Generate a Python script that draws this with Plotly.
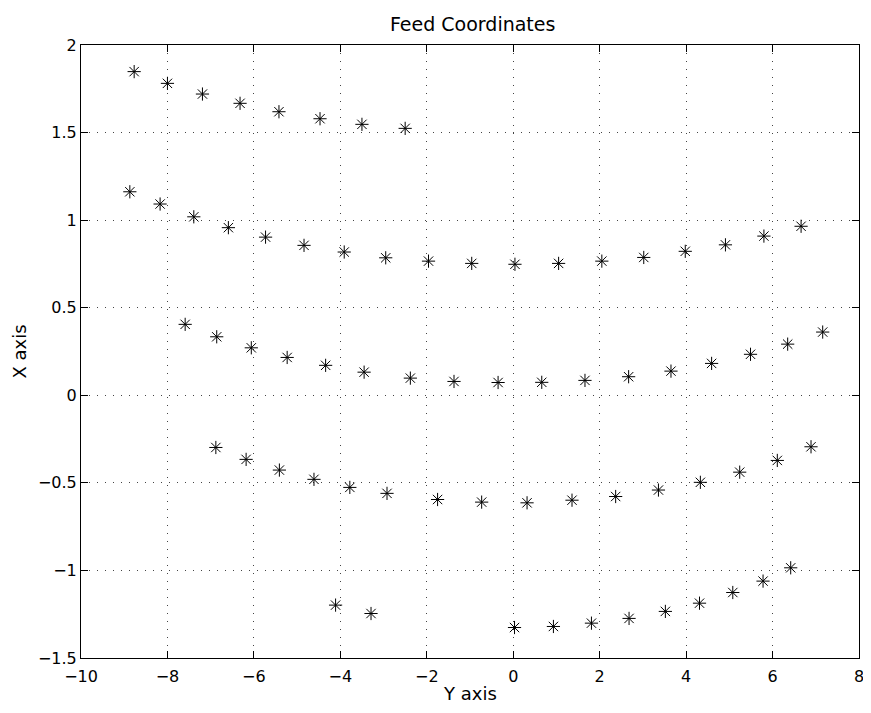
import plotly.graph_objects as go

# Row 1 (top arc)
y1 = [-8.77, -8.00, -7.19, -6.32, -5.42, -4.47, -3.50, -2.50]
x1 = [1.848, 1.781, 1.720, 1.667, 1.619, 1.579, 1.547, 1.524]

# Row 2
y2 = [-8.87, -8.17, -7.39, -6.59, -5.73, -4.84, -3.91, -2.95, -1.96, -0.96,
      0.04, 1.05, 2.05, 3.02, 3.98, 4.91, 5.80, 6.66]
x2 = [1.162, 1.092, 1.019, 0.957, 0.903, 0.856, 0.818, 0.785, 0.766, 0.753,
      0.748, 0.753, 0.766, 0.787, 0.822, 0.859, 0.909, 0.965]

# Row 3
y3 = [-7.59, -6.86, -6.06, -5.23, -4.34, -3.45, -2.38, -1.37,
      -0.35, 0.66, 1.66, 2.67, 3.65, 4.59, 5.49, 6.35, 7.16]
x3 = [0.405, 0.334, 0.271, 0.216, 0.171, 0.132, 0.098, 0.079,
      0.073, 0.074, 0.085, 0.106, 0.138, 0.182, 0.234, 0.292, 0.361]

# Row 4
y4 = [-6.88, -6.18, -5.41, -4.61, -3.78, -2.92, -1.75, -0.73,
      0.32, 1.36, 2.37, 3.36, 4.33, 5.24, 6.11, 6.89]
x4 = [-0.298, -0.366, -0.427, -0.480, -0.526, -0.560, -0.595, -0.610,
      -0.614, -0.599, -0.578, -0.541, -0.497, -0.439, -0.372, -0.294]

# Row 5 (bottom)
y5 = [-4.11, -3.29, 0.03, 0.93, 1.81, 2.68, 3.52, 4.31, 5.08, 5.78, 6.42]
x5 = [-1.198, -1.246, -1.326, -1.320, -1.301, -1.274, -1.234, -1.187, -1.126, -1.061, -0.985]

ys = y1 + y2 + y3 + y4 + y5
xs = x1 + x2 + x3 + x4 + x5

x_ticks = [-10, -8, -6, -4, -2, 0, 2, 4, 6, 8]
y_ticks = [-1.5, -1, -0.5, 0, 0.5, 1, 1.5, 2]

fig = go.Figure()
fig.add_trace(go.Scatter(
    x=ys, y=xs, mode="markers",
    marker=dict(symbol="asterisk-open", size=11, color="black",
                line=dict(color="black", width=1)),
    showlegend=False,
))

font = "DejaVu Sans, Liberation Sans, Arial, sans-serif"
axis_common = dict(
    showline=True, linecolor="black", linewidth=1, mirror="ticks",
    ticks="inside", ticklen=7, tickcolor="black", tickwidth=1,
    showgrid=True, gridcolor="#444444", gridwidth=1, griddash="1px,7px",
    zeroline=False, tickfont=dict(family=font, size=16, color="black"),
    ticklabeloverflow="allow", automargin=False,
)

W, H = 855, 697
fig.update_layout(
    width=W, height=H,
    margin=dict(l=73, r=4, t=37, b=47),
    paper_bgcolor="white", plot_bgcolor="white",
    title=dict(text="Feed Coordinates", x=0.5435, xanchor="center",
               y=1 - 16.5 / H, yanchor="middle", yref="container",
               font=dict(family=font, size=19, color="black")),
    xaxis=dict(range=[-10, 8], tickvals=x_ticks, **axis_common,
               ticklabelstandoff=4),
    yaxis=dict(range=[-1.5, 2], tickvals=y_ticks, **axis_common,
               title=dict(text="X axis", standoff=6,
                          font=dict(family=font, size=18, color="black"))),
    annotations=[dict(text="Y axis", xref="paper", yref="paper",
                      x=0.5, y=-0.0766, xanchor="center", yanchor="bottom",
                      showarrow=False, borderpad=0,
                      font=dict(family=font, size=18, color="black"))],
)

fig.write_html("out.html")
